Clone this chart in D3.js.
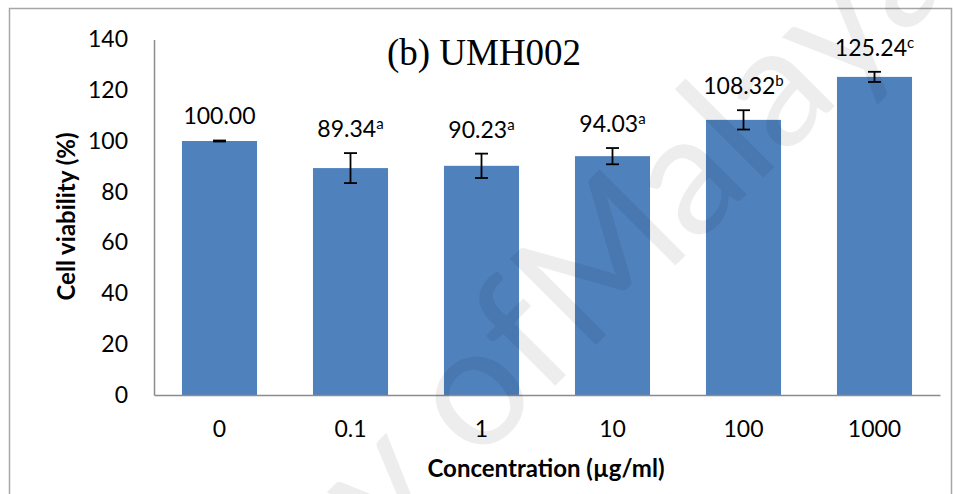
<!DOCTYPE html>
<html>
<head>
<meta charset="utf-8">
<script src="https://cdn.jsdelivr.net/npm/d3@7"></script>
<style>
    body { margin: 0; background: #fff; }
    svg { display: block; }
</style>
</head>
<body>
<div id="chart"></div>
<script>
const categories = ["0", "0.1", "1", "10", "100", "1000"];
const viability = [100.00, 89.34, 90.23, 94.03, 108.32, 125.24];
const errors = [0.2, 5.9, 4.8, 3.2, 3.8, 2.0];
const letters = ["", "a", "a", "a", "b", "c"];
const yTicks = [0, 20, 40, 60, 80, 100, 120, 140];

const data = categories.map((c, i) => ({
    conc: c, value: viability[i], err: errors[i], letter: letters[i]
}));

const width = 953, height = 494;
const plot = { left: 154, right: 940, top: 39.4, bottom: 395 };

const svg = d3.select("#chart")
    .append("svg")
    .attr("width", width)
    .attr("height", height);

// outer frame
svg.append("rect")
    .attr("x", 9.5).attr("y", 8.5)
    .attr("width", 942).attr("height", 500)
    .attr("fill", "#fff")
    .attr("stroke", "#a6a6a6")
    .attr("stroke-width", 1.5);

const xScale = d3.scaleBand()
    .domain(categories)
    .range([plot.left, plot.right])
    .paddingInner(0.427)
    .paddingOuter(0.2135);

const yScale = d3.scaleLinear()
    .domain([0, 140])
    .range([plot.bottom, plot.top]);

// bars
svg.selectAll("rect.bar")
    .data(data)
    .enter()
    .append("rect")
    .attr("class", "bar")
    .attr("x", d => xScale(d.conc))
    .attr("y", d => yScale(d.value))
    .attr("width", xScale.bandwidth())
    .attr("height", d => yScale(0) - yScale(d.value))
    .attr("fill", "#4f81bd");

// axes
const yAxis = svg.append("g")
    .attr("transform", `translate(${plot.left},0)`)
    .call(d3.axisLeft(yScale).tickValues(yTicks).tickSize(0).tickPadding(26));

const xAxis = svg.append("g")
    .attr("transform", `translate(0,${plot.bottom})`)
    .call(d3.axisBottom(xScale).tickSize(0).tickPadding(26));

[yAxis, xAxis].forEach(g => {
    g.select(".domain").attr("stroke", "#8c8c8c").attr("stroke-width", 1.5);
    g.selectAll("text")
        .style("font-family", "Lato, 'Open Sans', sans-serif")
        .style("font-size", "23px")
        .attr("fill", "#000");
});

// error bars
const cap = 6.5;
const eb = svg.selectAll("g.err")
    .data(data)
    .enter()
    .append("g")
    .attr("class", "err")
    .attr("stroke", "#000")
    .attr("stroke-width", 1.8);

eb.append("line")
    .attr("x1", d => xScale(d.conc) + xScale.bandwidth() / 2)
    .attr("x2", d => xScale(d.conc) + xScale.bandwidth() / 2)
    .attr("y1", d => yScale(d.value + d.err))
    .attr("y2", d => yScale(d.value - d.err));

eb.append("line")
    .attr("x1", d => xScale(d.conc) + xScale.bandwidth() / 2 - cap)
    .attr("x2", d => xScale(d.conc) + xScale.bandwidth() / 2 + cap)
    .attr("y1", d => yScale(d.value + d.err))
    .attr("y2", d => yScale(d.value + d.err));

eb.append("line")
    .attr("x1", d => xScale(d.conc) + xScale.bandwidth() / 2 - cap)
    .attr("x2", d => xScale(d.conc) + xScale.bandwidth() / 2 + cap)
    .attr("y1", d => yScale(d.value - d.err))
    .attr("y2", d => yScale(d.value - d.err));

// value labels with significance letters
const labels = svg.selectAll("text.val")
    .data(data)
    .enter()
    .append("text")
    .attr("class", "val")
    .attr("text-anchor", "middle")
    .attr("x", d => xScale(d.conc) + xScale.bandwidth() / 2)
    .attr("y", d => yScale(d.value + d.err) - 16)
    .style("font-family", "Lato, 'Open Sans', sans-serif")
    .style("font-size", "23px")
    .attr("fill", "#000");

labels.append("tspan").text(d => d.value.toFixed(2));
labels.append("tspan")
    .attr("dy", -8)
    .style("font-size", "15px")
    .text(d => d.letter);

// title
svg.append("text")
    .attr("x", 484)
    .attr("y", 65)
    .attr("text-anchor", "middle")
    .style("font-family", "'Liberation Serif', 'Times New Roman', serif")
    .style("font-size", "37px")
    .text("(b) UMH002");

// axis titles
svg.append("text")
    .attr("x", 546)
    .attr("y", 477)
    .attr("text-anchor", "middle")
    .style("font-family", "Lato, 'Open Sans', sans-serif")
    .style("font-weight", "bold")
    .style("font-size", "24px")
    .text("Concentration (µg/ml)");

svg.append("text")
    .attr("transform", "translate(75,216.5) rotate(-90)")
    .attr("text-anchor", "middle")
    .style("font-family", "Lato, 'Open Sans', sans-serif")
    .style("font-weight", "bold")
    .style("font-size", "24px")
    .text("Cell viability (%)");

// watermark
const wm = svg.append("g")
    .attr("transform", "translate(585,356) rotate(-45)")
    .style("font-family", "Lato, 'Open Sans', sans-serif")
    .style("font-size", "170px")
    .attr("fill", "#000")
    .attr("fill-opacity", 0.07);

wm.append("text").attr("text-anchor", "end").text("University of ");
wm.append("text").attr("text-anchor", "start").text("Malaya");
</script>
</body>
</html>
